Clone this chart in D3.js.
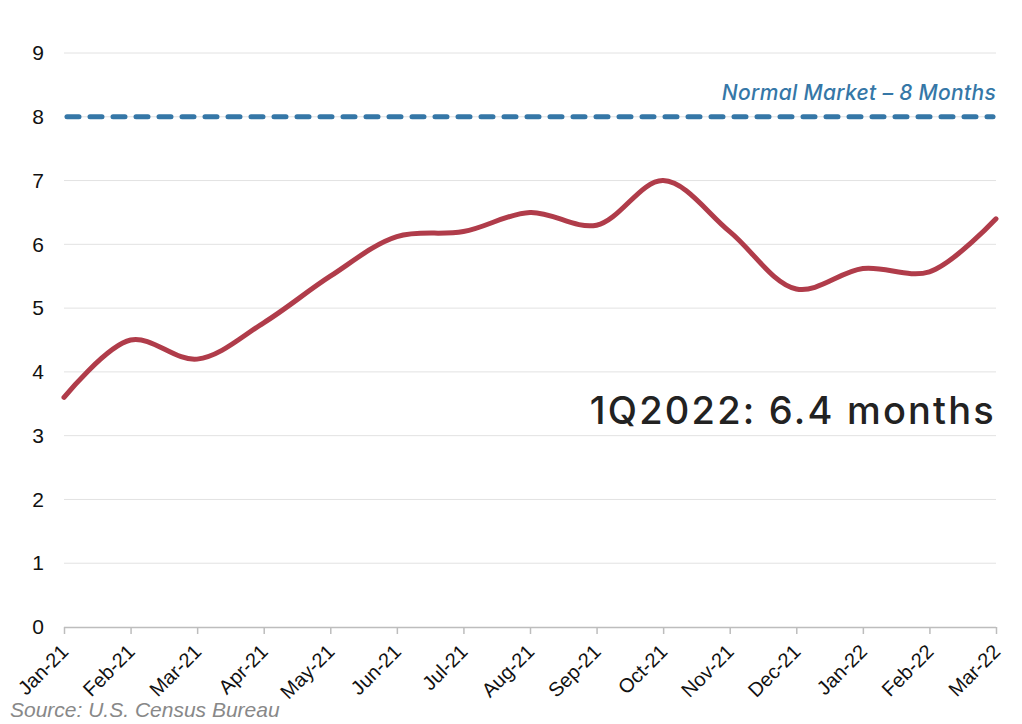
<!DOCTYPE html>
<html>
<head>
<meta charset="utf-8">
<script src="https://cdn.jsdelivr.net/npm/d3@7"></script>
<style>
  body { margin: 0; background: #fff; }
  svg { display: block; }
</style>
</head>
<body>
<svg id="chart"></svg>
<script>
// Months' supply of new homes
const months = ["Jan-21", "Feb-21", "Mar-21", "Apr-21", "May-21", "Jun-21", "Jul-21",
                "Aug-21", "Sep-21", "Oct-21", "Nov-21", "Dec-21", "Jan-22", "Feb-22", "Mar-22"];
const supply = [3.6, 4.5, 4.2, 4.77, 5.5, 6.12, 6.2, 6.5, 6.3, 7.0, 6.2, 5.3, 5.62, 5.57, 6.4];
const yTicks = [0, 1, 2, 3, 4, 5, 6, 7, 8, 9];
const normalMarket = 8;
const normalLabel = "Normal Market \u2013 8 Months";
const callout = "1Q2022: 6.4 months";
const source = "Source: U.S. Census Bureau";

const width = 1022;
const height = 724;
const margin = { top: 53, right: 26, bottom: 97, left: 64 };

const svg = d3.select("#chart")
    .attr("width", width)
    .attr("height", height);

const x = d3.scalePoint()
    .domain(months)
    .range([margin.left, width - margin.right]);

const y = d3.scaleLinear()
    .domain([0, 9])
    .range([height - margin.bottom, margin.top]);

// gridlines
svg.append("g")
    .selectAll("line")
    .data(yTicks.filter(d => d > 0))
    .enter()
    .append("line")
    .attr("x1", margin.left)
    .attr("x2", width - margin.right)
    .attr("y1", d => y(d))
    .attr("y2", d => y(d))
    .attr("stroke", "#e2e2e2")
    .attr("stroke-width", 1);

// y axis labels
const yAxis = d3.axisLeft(y).tickValues(yTicks).tickSize(0).tickPadding(20);
svg.append("g")
    .attr("transform", "translate(" + margin.left + ",0)")
    .call(yAxis)
    .call(g => g.select(".domain").remove())
    .selectAll("text")
    .attr("font-family", "Liberation Sans, Arial, sans-serif")
    .attr("font-size", 21)
    .attr("fill", "#111");

// x axis
const xAxis = d3.axisBottom(x).tickSizeOuter(0).tickSize(7);
const gx = svg.append("g")
    .attr("transform", "translate(0," + (height - margin.bottom) + ")")
    .call(xAxis);
gx.select(".domain").attr("stroke", "#bdbdbd").attr("stroke-width", 1.5)
    .attr("d", "M" + margin.left + ",0.5H" + (width - margin.right));
gx.selectAll(".tick line").attr("stroke", "#bdbdbd").attr("stroke-width", 1.5);
gx.selectAll("text")
    .attr("font-family", "Liberation Sans, Arial, sans-serif")
    .attr("font-size", 20)
    .attr("fill", "#111")
    .attr("text-anchor", "end")
    .attr("x", 0)
    .attr("y", 0)
    .attr("dy", 0)
    .attr("transform", "translate(5,26) rotate(-45)");

// normal market dashed line
svg.append("line")
    .attr("x1", margin.left + 3)
    .attr("x2", width - margin.right - 3)
    .attr("y1", y(normalMarket))
    .attr("y2", y(normalMarket))
    .attr("stroke", "#3577a7")
    .attr("stroke-width", 5)
    .attr("stroke-linecap", "round")
    .attr("stroke-dasharray", "12,11");

svg.append("text")
    .attr("x", width - margin.right)
    .attr("y", y(normalMarket) - 17)
    .attr("text-anchor", "end")
    .attr("font-family", "Inter, sans-serif")
    .attr("font-style", "italic")
    .attr("font-weight", 500)
    .attr("font-size", 21)
    .attr("letter-spacing", 0.3)
    .attr("fill", "#3577a7")
    .text(normalLabel);

// supply line
const line = d3.line()
    .x((d, i) => x(months[i]))
    .y(d => y(d))
    .curve(d3.curveCatmullRom.alpha(0.5));

svg.append("path")
    .datum(supply)
    .attr("d", line)
    .attr("fill", "none")
    .attr("stroke", "#b03c4a")
    .attr("stroke-width", 5)
    .attr("stroke-linejoin", "round")
    .attr("stroke-linecap", "round");

// callout
svg.append("text")
    .attr("x", width - margin.right)
    .attr("y", 424)
    .attr("text-anchor", "end")
    .attr("font-family", "Inter, sans-serif")
    .attr("font-weight", 500)
    .attr("font-size", 38)
    .attr("letter-spacing", 2.2)
    .attr("fill", "#222")
    .text(callout);

// source
svg.append("text")
    .attr("x", 10)
    .attr("y", 717)
    .attr("font-family", "Liberation Sans, Arial, sans-serif")
    .attr("font-style", "italic")
    .attr("font-size", 21)
    .attr("fill", "#888")
    .text(source);
</script>
</body>
</html>
